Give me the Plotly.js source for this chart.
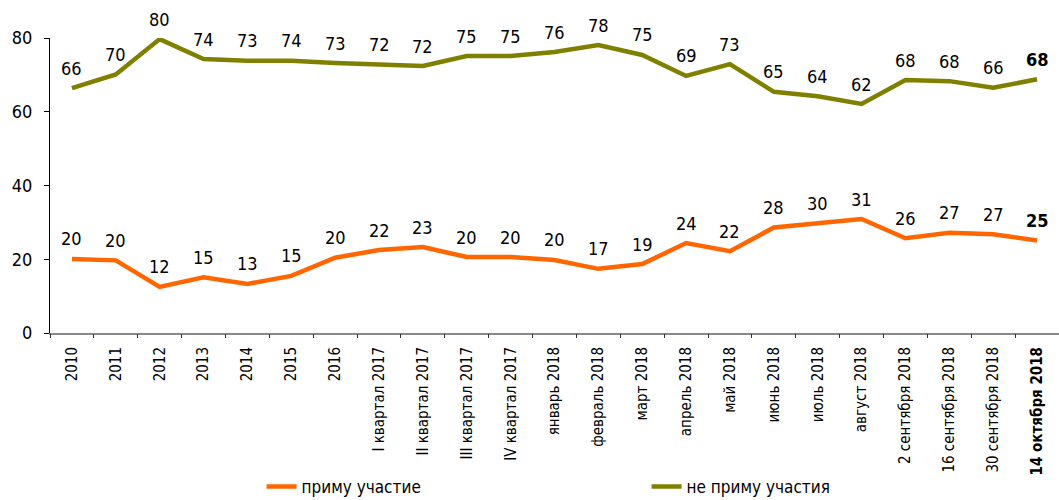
<!DOCTYPE html>
<html>
<head>
<meta charset="utf-8">
<script src="https://cdn.plot.ly/plotly-3.0.1.min.js"></script>
<style>html,body{margin:0;padding:0;background:#fff}#chart{width:1059px;height:500px}</style>
</head>
<body>
<div id="chart"></div>
<script>
const categories = ["2010","2011","2012","2013","2014","2015","2016",
  "I квартал 2017","II квартал 2017","III квартал 2017","IV квартал 2017",
  "январь 2018","февраль 2018","март 2018","апрель 2018","май 2018","июнь 2018",
  "июль 2018","август 2018","2 сентября 2018","16 сентября 2018","30 сентября 2018","14 октября 2018"];
const notParticipate = [66.4,70.1,79.7,74.3,73.8,73.8,73.2,72.7,72.4,75.1,75.1,76.2,78.1,75.4,69.7,72.9,65.4,64.2,62.1,68.6,68.3,66.5,68.8];
const notParticipateLabels = ["66","70","80","74","73","74","73","72","72","75","75","76","78","75","69","73","65","64","62","68","68","66","68"];
const participate = [20.1,19.7,12.5,15.1,13.3,15.5,20.4,22.5,23.3,20.6,20.6,19.8,17.4,18.7,24.4,22.2,28.6,29.7,30.9,25.7,27.2,26.8,25.1];
const participateLabels = ["20","20","12","15","13","15","20","22","23","20","20","20","17","19","24","22","28","30","31","26","27","27","25"];
const seriesNames = ["приму участие","не приму участия"];
const yTicks = [0,20,40,60,80];

const FONT = "'DejaVu Sans Condensed', sans-serif";
const ORANGE = "#ff6600", OLIVE = "#808000";
const last = categories.length - 1;
const idx = categories.map((c, i) => i);

const traces = [
  {x: idx, y: participate, name: seriesNames[0], mode: "lines",
   line: {color: ORANGE, width: 4.5}, cliponaxis: false, hoverinfo: "skip"},
  {x: idx, y: notParticipate, name: seriesNames[1], mode: "lines",
   line: {color: OLIVE, width: 4.5}, cliponaxis: false, hoverinfo: "skip"}
];

const annotations = [];
function addLabels(vals, labels) {
  vals.forEach((v, i) => {
    annotations.push({x: i, y: v, xref: "x", yref: "y",
      text: i === last ? "<b>" + labels[i] + "</b>" : labels[i],
      showarrow: false, yshift: 20, yanchor: "middle",
      font: {family: FONT, size: 18, color: "#000"}});
  });
}
addLabels(participate, participateLabels);
addLabels(notParticipate, notParticipateLabels);

const layout = {
  width: 1059, height: 500,
  margin: {l: 50, r: 0, t: 38, b: 167, autoexpand: false},
  paper_bgcolor: "#fff", plot_bgcolor: "#fff",
  font: {family: FONT, size: 18, color: "#000"},
  showlegend: true,
  legend: {orientation: "h", xref: "container", x: 0.247, xanchor: "left",
    yref: "container", y: 0.026, yanchor: "middle",
    entrywidth: 340, entrywidthmode: "pixels", bgcolor: "rgba(0,0,0,0)",
    font: {family: FONT, size: 17, color: "#000"}},
  xaxis: {
    type: "linear", range: [-0.5, last + 0.5], automargin: false,
    tickmode: "array", tickvals: idx,
    ticktext: categories.map((c, i) => i === last ? "<b>" + c + "</b>" : c),
    tickangle: -90, ticks: "", showline: true, linecolor: "#888", linewidth: 2,
    showgrid: false, zeroline: false,
    tickfont: {family: FONT, size: 15, color: "#000"}, ticklabelstandoff: 6
  },
  xaxis2: {
    overlaying: "x", matches: "x", range: [-0.5, last + 0.5], showline: false,
    tickmode: "array", tickvals: idx.map(i => i - 0.5).concat([last + 0.5]),
    ticks: "outside", ticklen: 4, tickcolor: "#333", showticklabels: false,
    showgrid: false, zeroline: false, anchor: "y", side: "bottom"
  },
  yaxis: {
    range: [0, 80], tickvals: yTicks, ticks: "outside", ticklen: 5, tickcolor: "#000",
    showline: true, linecolor: "#000", linewidth: 1, showgrid: false, zeroline: false,
    automargin: false,
    tickfont: {family: FONT, size: 18, color: "#000"}, ticklabelstandoff: 8
  },
  annotations: annotations
};

// invisible trace so the secondary x axis draws the boundary ticks
traces.push({x: [0], y: [null], xaxis: "x2", yaxis: "y", showlegend: false, hoverinfo: "skip", mode: "lines"});

Plotly.newPlot("chart", traces, layout, {staticPlot: true, displayModeBar: false});
</script>
</body>
</html>
